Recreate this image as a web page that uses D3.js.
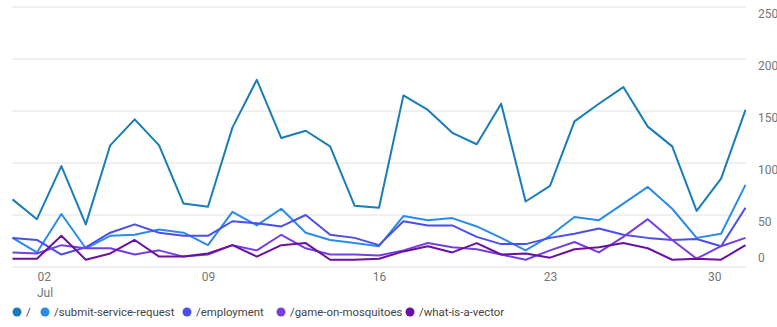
<!DOCTYPE html>
<html>
<head>
<meta charset="utf-8">
<script src="https://cdn.jsdelivr.net/npm/d3@7"></script>
<style>
  body { margin: 0; background: #fff; font-family: Roboto, sans-serif; }
  .axis text { font-family: Roboto, sans-serif; font-size: 12px; fill: #757575; }
  .legend text { font-family: Roboto, sans-serif; font-size: 11.4px; fill: #444; }
</style>
</head>
<body>
<div id="chart"></div>
<script>
// daily page views per page, July 2023
const days = d3.range(1, 32).map(d => new Date(2023, 6, d));
const pages = ['/', '/submit-service-request', '/employment', '/game-on-mosquitoes', '/what-is-a-vector'];
const colors = ['#1a7cb8', '#2b8be9', '#4b4ee8', '#7640e0', '#6a11a0'];

const rootViews = [65, 46, 97, 41, 117, 142, 117, 61, 58, 134, 180, 124, 131, 116, 59, 57, 165, 151, 129, 118, 157, 63, 78, 140, 157, 173, 135, 116, 54, 85, 151];
const submitViews = [28, 14, 51, 18, 30, 31, 36, 33, 21, 53, 40, 56, 33, 26, 23, 20, 49, 45, 47, 39, 28, 16, 30, 48, 45, 61, 77, 56, 28, 32, 79];
const employmentViews = [28, 26, 12, 19, 33, 41, 33, 30, 30, 44, 42, 39, 50, 31, 28, 21, 44, 40, 40, 29, 22, 22, 28, 32, 37, 31, 28, 26, 27, 20, 57];
const gameViews = [14, 13, 21, 18, 18, 12, 16, 10, 12, 21, 16, 31, 18, 12, 12, 11, 16, 23, 19, 17, 12, 7, 16, 24, 14, 29, 46, 26, 8, 20, 28];
const vectorViews = [8, 8, 30, 7, 13, 26, 10, 10, 13, 21, 10, 21, 23, 7, 7, 8, 15, 20, 14, 23, 12, 13, 9, 17, 19, 23, 18, 7, 8, 7, 21];

const yTicks = [0, 50, 100, 150, 200, 250];
const xTickDays = [2, 9, 16, 23, 30];

const series = [rootViews, submitViews, employmentViews, gameViews, vectorViews];

const svgWidth = 777;
const svgHeight = 327;

const svg = d3.select('#chart')
    .append('svg')
    .attr('width', svgWidth)
    .attr('height', svgHeight);

const x = d3.scaleTime()
    .domain([days[0], days[days.length - 1]])
    .range([12.5, 745.5]);
const y = d3.scaleLinear()
    .domain([0, 250])
    .range([267, 7]);

// gridlines
svg.append('g')
    .selectAll('line')
    .data(yTicks)
    .enter()
    .append('line')
    .attr('x1', 12)
    .attr('x2', 746)
    .attr('y1', d => y(d))
    .attr('y2', d => y(d))
    .attr('stroke', '#ebebeb')
    .attr('stroke-width', 1.5);

// y labels on the right
const yAxis = svg.append('g')
    .attr('class', 'axis')
    .attr('transform', 'translate(758,0)')
    .call(d3.axisRight(y).tickValues(yTicks).tickSize(0).tickPadding(0));
yAxis.select('.domain').remove();
yAxis.selectAll('text')
    .attr('text-anchor', 'start')
    .attr('dy', d => d === 0 ? '-0.45em' : '0.9em');

// x labels
const xAxis = svg.append('g')
    .attr('class', 'axis')
    .attr('transform', 'translate(0,267)')
    .call(d3.axisBottom(x)
        .tickValues(xTickDays.map(d => new Date(2023, 6, d)))
        .tickFormat(d3.timeFormat('%d'))
        .tickSize(0)
        .tickPadding(5));
xAxis.select('.domain').remove();
xAxis.selectAll('text')
    .attr('dy', '0.71em')
    .attr('text-anchor', (d, i) => i === 0 ? 'start' : (i === xTickDays.length - 1 ? 'end' : 'middle'));
xAxis.append('text')
    .attr('x', x(new Date(2023, 6, 2)))
    .attr('y', 30)
    .attr('text-anchor', 'start')
    .attr('fill', '#757575')
    .text('Jul');

// lines
const line = d3.line()
    .x((d, i) => x(days[i]))
    .y(d => y(d));

svg.append('g')
    .selectAll('path')
    .data(series)
    .enter()
    .append('path')
    .attr('d', d => line(d))
    .attr('fill', 'none')
    .attr('stroke', (d, i) => colors[i])
    .attr('stroke-width', 2)
    .attr('stroke-linejoin', 'round');

// legend
const legendX = [17, 45, 187, 281, 410];
const legend = svg.append('g')
    .attr('class', 'legend')
    .attr('transform', 'translate(0,312)');
const item = legend.selectAll('g')
    .data(pages)
    .enter()
    .append('g')
    .attr('transform', (d, i) => `translate(${legendX[i]},0)`);
item.append('circle')
    .attr('r', 4.5)
    .attr('fill', (d, i) => colors[i]);
item.append('text')
    .attr('x', 9)
    .attr('dy', '0.35em')
    .text(d => d);
</script>
</body>
</html>
